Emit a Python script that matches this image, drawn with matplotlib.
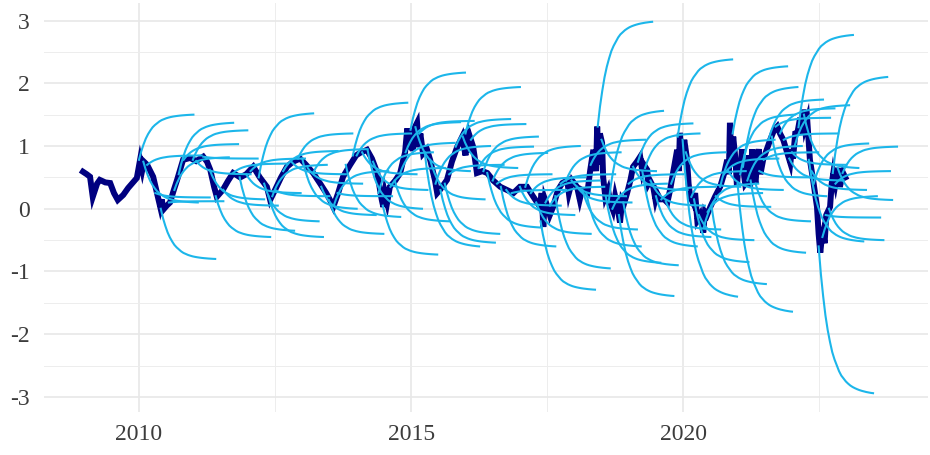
import numpy as np
import matplotlib
matplotlib.use("Agg")
import matplotlib.pyplot as plt
from matplotlib.ticker import FixedLocator

plt.rcParams['font.family'] = ['Liberation Serif', 'DejaVu Serif']
plt.rcParams['axes.unicode_minus'] = False

# observed series (decimal year, value)
obs_t = [2008.97, 2009.04, 2009.10, 2009.15, 2009.23, 2009.28, 2009.38, 2009.47, 2009.54, 2009.61,
         2009.71, 2009.80, 2009.89, 2009.96, 2010.02, 2010.06, 2010.09, 2010.15, 2010.26, 2010.33,
         2010.37, 2010.39, 2010.42, 2010.44, 2010.51, 2010.57, 2010.64, 2010.70, 2010.81, 2010.94,
         2011.05, 2011.18, 2011.25, 2011.31, 2011.38, 2011.43, 2011.54, 2011.64, 2011.73, 2011.86,
         2011.97, 2012.10, 2012.22, 2012.35, 2012.41, 2012.50, 2012.61, 2012.72, 2012.83, 2012.96,
         2013.07, 2013.20, 2013.33, 2013.44, 2013.51, 2013.57, 2013.66, 2013.75, 2013.88, 2013.99,
         2014.06, 2014.19, 2014.28, 2014.38, 2014.43, 2014.46, 2014.49, 2014.52, 2014.56, 2014.61,
         2014.71, 2014.80, 2014.89, 2014.93, 2014.96, 2014.99, 2015.03, 2015.07, 2015.11, 2015.14,
         2015.17, 2015.22, 2015.29, 2015.35, 2015.44, 2015.48, 2015.53, 2015.61, 2015.66, 2015.75,
         2015.85, 2015.94, 2016.00, 2016.03, 2016.06, 2016.08, 2016.14, 2016.19, 2016.21, 2016.31,
         2016.40, 2016.51, 2016.64, 2016.76, 2016.88, 2017.00, 2017.13, 2017.24, 2017.37, 2017.40,
         2017.43, 2017.46, 2017.50, 2017.55, 2017.61, 2017.70, 2017.78, 2017.87, 2017.90, 2017.96,
         2018.05, 2018.10, 2018.14, 2018.24, 2018.29, 2018.35, 2018.40, 2018.42, 2018.45, 2018.47,
         2018.51, 2018.53, 2018.57, 2018.62, 2018.66, 2018.71, 2018.75, 2018.79, 2018.84, 2018.88,
         2018.92, 2018.97, 2019.03, 2019.08, 2019.15, 2019.21, 2019.25, 2019.28, 2019.34, 2019.36,
         2019.39, 2019.45, 2019.49, 2019.52, 2019.58, 2019.65, 2019.71, 2019.76, 2019.82, 2019.89,
         2019.92, 2019.94, 2019.98, 2020.02, 2020.07, 2020.10, 2020.13, 2020.18, 2020.22, 2020.26,
         2020.31, 2020.37, 2020.40, 2020.44, 2020.50, 2020.59, 2020.68, 2020.75, 2020.81, 2020.84,
         2020.86, 2020.89, 2020.92, 2020.96, 2020.99, 2021.02, 2021.05, 2021.08, 2021.10, 2021.14,
         2021.18, 2021.21, 2021.23, 2021.27, 2021.29, 2021.33, 2021.36, 2021.39, 2021.42, 2021.47,
         2021.54, 2021.60, 2021.67, 2021.73, 2021.78, 2021.84, 2021.91, 2021.97, 2022.00, 2022.02,
         2022.06, 2022.10, 2022.15, 2022.18, 2022.21, 2022.24, 2022.28, 2022.33, 2022.39, 2022.46,
         2022.49, 2022.52, 2022.55, 2022.57, 2022.60, 2022.63, 2022.70, 2022.73, 2022.76, 2022.80,
         2022.85, 2022.88, 2022.94, 2022.98]
obs_y = [0.59, 0.55, 0.51, 0.19, 0.40, 0.46, 0.42, 0.41, 0.25, 0.14,
         0.22, 0.33, 0.42, 0.49, 0.78, 0.62, 0.75, 0.70, 0.51, 0.25,
         0.10, 0.03, 0.15, -0.02, 0.05, 0.10, 0.30, 0.46, 0.78, 0.81,
         0.76, 0.83, 0.75, 0.62, 0.35, 0.19, 0.30, 0.45, 0.57, 0.50,
         0.55, 0.67, 0.50, 0.35, 0.14, 0.30, 0.50, 0.67, 0.75, 0.80,
         0.70, 0.57, 0.40, 0.25, 0.14, 0.03, 0.25, 0.51, 0.70, 0.85,
         0.89, 0.94, 0.80, 0.57, 0.30, 0.15, 0.03, 0.25, 0.10, 0.35,
         0.45, 0.57, 0.90, 1.28, 0.95, 1.26, 0.92, 1.30, 1.37, 0.98,
         1.20, 0.88, 0.95, 0.78, 0.45, 0.25, 0.30, 0.40, 0.46, 0.75,
         0.99, 1.15, 0.85, 1.26, 0.90, 1.15, 0.99, 0.70, 0.57, 0.60,
         0.57, 0.45, 0.35, 0.30, 0.25, 0.35, 0.35, 0.20, 0.03, 0.25,
         -0.29, 0.15, 0.05, -0.10, 0.03, 0.30, 0.41, 0.45, 0.25, 0.45,
         0.35, 0.15, 0.30, 0.25, 0.60, 0.94, 0.60, 1.31, 0.70, 1.20,
         1.05, 0.50, 0.19, 0.30, 0.10, -0.02, 0.20, 0.05, -0.22, 0.15,
         0.10, 0.25, 0.45, 0.67, 0.75, 0.83, 0.60, 0.70, 0.62, 0.40,
         0.45, 0.35, 0.15, 0.25, 0.15, 0.15, 0.10, 0.30, 0.60, 0.94,
         0.60, 1.21, 0.70, 1.10, 0.80, 0.40, 0.19, 0.10, 0.25, -0.18,
         -0.10, -0.38, -0.05, -0.10, 0.03, 0.20, 0.35, 0.55, 0.78, 0.55,
         1.37, 0.70, 1.15, 0.80, 0.35, 0.80, 0.55, 0.95, 0.67, 0.40,
         0.45, 0.85, 0.35, 0.95, 0.60, 0.40, 0.78, 0.95, 0.55, 0.78,
         0.95, 1.10, 1.25, 1.31, 1.20, 1.10, 0.90, 0.73, 0.95, 0.80,
         1.20, 1.21, 1.45, 1.20, 1.58, 1.30, 1.42, 0.78, 0.45, 0.03,
         -0.40, -0.70, -0.45, -0.38, -0.55, -0.10, 0.03, 0.40, 0.57, 0.40,
         0.65, 0.35, 0.57, 0.50]

# one-year-ahead forecast paths: origin date, origin value, value reached after 12 months
fc_start = [2010.00, 2010.15, 2010.40, 2010.55, 2010.73, 2010.82, 2010.99, 2011.18, 2011.41, 2011.55,
            2011.73, 2011.97, 2012.20, 2012.30, 2012.38, 2012.50, 2012.65, 2012.92, 2013.10, 2013.35,
            2013.49, 2013.65, 2013.80, 2013.93, 2014.10, 2014.30, 2014.48, 2014.62, 2014.80, 2014.99,
            2015.15, 2015.35, 2015.54, 2015.70, 2015.82, 2016.00, 2016.24, 2016.33, 2016.50, 2016.65,
            2016.85, 2017.00, 2017.20, 2017.38, 2017.55, 2017.75, 2017.95, 2018.15, 2018.30, 2018.43,
            2018.58, 2018.63, 2018.82, 2019.00, 2019.17, 2019.40, 2019.60, 2019.68, 2019.90, 2019.99,
            2020.15, 2020.29, 2020.45, 2020.60, 2020.75, 2020.91, 2021.00, 2021.10, 2021.24, 2021.40,
            2021.57, 2021.70, 2021.85, 2022.00, 2022.12, 2022.31, 2022.40, 2022.49, 2022.62, 2022.75,
            2022.84, 2022.93,
            2010.08, 2010.30, 2010.65, 2011.05, 2011.30, 2011.85, 2012.05, 2012.45, 2012.80, 2013.00,
            2013.20, 2013.58, 2014.00, 2014.20, 2014.40, 2014.70, 2014.90, 2015.08, 2015.25, 2015.45,
            2015.62, 2015.95, 2016.10, 2016.40, 2016.58, 2016.75, 2017.10, 2017.30, 2017.47, 2017.65,
            2017.85, 2018.05, 2018.22, 2018.50, 2018.70, 2018.90, 2019.08, 2019.25, 2019.30, 2019.50,
            2019.78, 2020.05, 2020.20, 2020.38, 2020.52, 2020.68, 2020.83, 2021.05, 2021.18, 2021.33,
            2021.48, 2021.63, 2021.78, 2021.95, 2022.05, 2022.22, 2022.36, 2022.56, 2022.68, 2022.80]
fc_origin = [0.78, 0.70, 0.00, 0.10, 0.55, 0.78, 0.78, 0.83, 0.20, 0.30,
             0.57, 0.55, 0.50, 0.40, 0.20, 0.30, 0.60, 0.80, 0.65, 0.35,
             0.14, 0.25, 0.70, 0.85, 0.90, 0.75, 0.05, 0.35, 0.57, 1.26,
             1.20, 0.78, 0.30, 0.55, 0.99, 1.20, 0.65, 0.60, 0.45, 0.35,
             0.25, 0.35, 0.25, -0.20, 0.05, 0.40, 0.45, 0.30, 0.70, 1.31,
             0.19, 0.10, -0.10, 0.40, 0.75, 0.45, 0.15, 0.12, 1.15, 1.10,
             0.19, -0.10, -0.05, 0.20, 0.55, 1.20, 0.40, 0.67, 0.45, 0.60,
             1.10, 1.31, 1.10, 0.90, 1.30, 0.78, 0.40, -0.60, -0.10, 0.57,
             0.65, 0.57,
             0.75, 0.25, 0.30, 0.76, 0.62, 0.50, 0.60, 0.20, 0.75, 0.80,
             0.57, 0.05, 0.85, 0.94, 0.25, 0.45, 0.90, 1.30, 0.90, 0.40,
             0.40, 1.15, 1.10, 0.57, 0.40, 0.30, 0.35, 0.10, 0.10, 0.20,
             0.45, 0.35, 0.25, 1.10, 0.00, 0.10, 0.67, 0.60, 0.65, 0.20,
             0.40, 0.90, 0.15, -0.30, 0.05, 0.35, 0.60, 0.55, 0.45, 0.40,
             0.78, 1.15, 1.20, 0.80, 1.00, 1.50, 0.60, -0.45, 0.00, 0.40]
fc_end = [1.50, 0.85, -0.80, 0.12, 1.37, 1.03, 1.25, 0.80, -0.45, 0.05,
          0.72, 0.25, 1.52, -0.20, -0.45, 0.20, 0.92, 1.20, 0.40, -0.10,
          -0.40, 0.20, -0.13, 1.69, 0.55, 0.30, -0.73, 0.65, 1.05, 2.17,
          1.40, 0.15, -0.54, 0.70, 1.43, 1.94, 0.99, 1.15, 0.89, -0.60,
          0.30, -0.10, 0.50, -1.29, 0.35, 0.55, 0.20, -0.33, 1.10, 2.98,
          -0.86, 1.56, -1.39, 0.55, 1.36, 0.05, 0.35, -0.33, 2.38, -1.40,
          0.60, -0.50, 0.25, 0.03, 0.80, 2.27, -1.64, 1.94, -0.70, 0.50,
          1.74, 1.45, 1.20, 0.70, 2.77, -0.52, 1.04, -2.94, -0.14, 2.10,
          0.14, 0.99,
          0.10, 0.18, 0.82, 0.55, 0.15, -0.35, 0.80, 0.70, 0.55, 0.00,
          0.95, 0.60, 1.20, 0.00, 0.90, -0.20, 1.38, 0.60, -0.60, 1.00,
          -0.40, 0.65, 1.35, -0.30, 0.55, 0.05, 1.00, -0.40, 0.45, -0.95,
          0.90, 0.10, -0.60, 0.60, 0.40, -0.90, 0.30, -0.60, 1.20, -0.45,
          0.90, 0.35, -0.85, 0.40, -1.20, 1.10, 0.30, 1.50, 1.00, -0.20,
          0.90, 0.20, 1.60, 0.45, 1.65, 0.65, 0.30, 0.20, -0.50, 0.60]

# share of the total move covered at each half-month step of the horizon
fc_step = [0, 1/24, 2/24, 3/24, 4/24, 5/24, 6/24, 7/24, 8/24, 9/24, 10/24, 11/24, 12/24,
           13/24, 14/24, 15/24, 16/24, 17/24, 18/24, 19/24, 20/24, 21/24, 22/24, 23/24, 1]
fc_share = [0, 0.19, 0.34, 0.47, 0.57, 0.65, 0.72, 0.77, 0.81, 0.85, 0.88, 0.90, 0.92,
            0.935, 0.948, 0.958, 0.966, 0.973, 0.979, 0.984, 0.988, 0.992, 0.995, 0.998, 1.0]

fig = plt.figure(figsize=(9.3, 4.55), dpi=100)
ax = fig.add_axes([44/930, 43/455, 884/930, 409/455])

ax.plot(obs_t, obs_y, color='#000080', lw=4.3, solid_joinstyle='miter', zorder=2)

step = np.array(fc_step)
share = np.array(fc_share)
for t0, y0, y1 in zip(fc_start, fc_origin, fc_end):
    ax.plot(t0 + step, y0 + (y1 - y0) * share, color='#1cb6ea', lw=1.5, zorder=3)

ax.set_xlim(2008.254, 2024.5)
ax.set_ylim(-3.24, 3.28)

ax.xaxis.set_major_locator(FixedLocator([2010, 2015, 2020]))
ax.xaxis.set_minor_locator(FixedLocator([2012.5, 2017.5, 2022.5]))
ax.yaxis.set_major_locator(FixedLocator([-3, -2, -1, 0, 1, 2, 3]))
ax.yaxis.set_minor_locator(FixedLocator([-2.5, -1.5, -0.5, 0.5, 1.5, 2.5]))
ax.set_xticklabels(['2010', '2015', '2020'])
ax.set_yticklabels(['-3', '-2', '-1', '0', '1', '2', '3'])

ax.grid(which='major', color='#e8e8e8', lw=1.2, zorder=0)
ax.grid(which='minor', color='#ededed', lw=0.7, zorder=0)
ax.set_axisbelow(True)

for s in ax.spines.values():
    s.set_visible(False)
ax.tick_params(which='both', length=0, labelsize=17, labelcolor='#3c3c3c')
ax.tick_params(axis='y', pad=10)
ax.tick_params(axis='x', pad=9)

fig.savefig('out.png', dpi=100)
